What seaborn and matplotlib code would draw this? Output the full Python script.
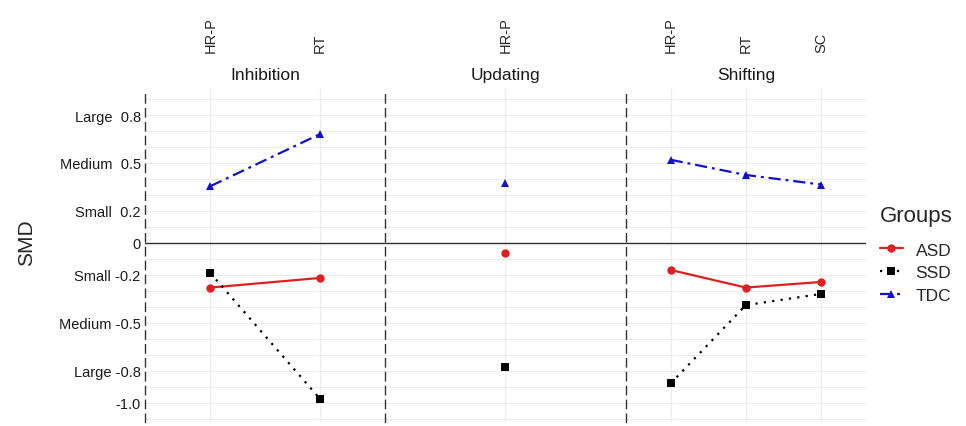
import matplotlib
matplotlib.use("Agg")
import matplotlib.pyplot as plt
import seaborn as sns
import pandas as pd
import numpy as np

# data
domains = ["Inhibition", "Updating", "Shifting"]
inhibition_tasks = ["HR-P", "RT"]
updating_tasks = ["HR-P"]
shifting_tasks = ["HR-P", "RT", "SC"]
groups = ["ASD", "SSD", "TDC"]

# values in order: Inhibition (HR-P, RT), Updating (HR-P), Shifting (HR-P, RT, SC)
asd_smd = [-0.28, -0.22, -0.065, -0.17, -0.28, -0.245]
ssd_smd = [-0.19, -0.975, -0.78, -0.88, -0.39, -0.32]
tdc_smd = [0.355, 0.68, 0.375, 0.52, 0.425, 0.365]

ytick_values = [0.8, 0.5, 0.2, 0, -0.2, -0.5, -0.8, -1.0]
ytick_labels = ["Large  0.8", "Medium  0.5", "Small  0.2", "0",
                "Small -0.2", "Medium -0.5", "Large -0.8", "-1.0"]

task_lists = [inhibition_tasks, updating_tasks, shifting_tasks]
rows = []
for g, vals in zip(groups, [asd_smd, ssd_smd, tdc_smd]):
    k = 0
    for d, tl in zip(domains, task_lists):
        for t in tl:
            rows.append({"domain": d, "task": t, "group": g, "smd": vals[k]})
            k += 1
df = pd.DataFrame(rows)

palette = {"ASD": "#e01f1f", "SSD": "black", "TDC": "#1212cc"}
markers = {"ASD": "o", "SSD": "s", "TDC": "^"}
dashes = {"ASD": "", "SSD": (1, 2.8), "TDC": (5.5, 2.2, 1.3, 2.2)}

sns.set_style("white")
plt.rcParams["font.family"] = ["Liberation Sans", "DejaVu Sans"]

fig = plt.figure(figsize=(9.66, 4.27), dpi=100)
axes = fig.subplots(1, 3, sharey=True,
                    gridspec_kw=dict(wspace=0, left=0.150, right=0.8965,
                                     top=0.789, bottom=0.01))

for i, (ax, d, tl) in enumerate(zip(axes, domains, task_lists)):
    sub = df[df["domain"] == d]
    sns.lineplot(data=sub, x="task", y="smd", hue="group", style="group",
                 hue_order=groups, style_order=groups, palette=palette,
                 markers=markers, dashes=dashes, markersize=6,
                 markeredgewidth=0, linewidth=1.6, sort=False, errorbar=None,
                 legend=(i == 2), ax=ax)
    n = len(tl)
    ax.set_xlim(-0.6, n - 0.4)
    ax.set_ylim(-1.12, 0.9625)
    ax.set_xticks(range(n))
    ax.set_xticklabels(tl, rotation=90, fontsize=10.5)
    ax.xaxis.tick_top()
    ax.tick_params(axis="x", length=0, pad=27)
    ax.set_yticks(ytick_values)
    ax.set_yticks(np.round(np.arange(-1.1, 0.95, 0.1), 1), minor=True)
    ax.tick_params(axis="y", which="both", length=0, pad=3)
    ax.grid(which="both", axis="y", color="#ececec", linewidth=0.9)
    ax.grid(which="major", axis="x", color="#ececec", linewidth=0.9)
    ax.set_axisbelow(True)
    ax.axhline(0, color="#333333", linewidth=1.0, zorder=1)
    for s in ["top", "right", "bottom"]:
        ax.spines[s].set_visible(False)
    ax.spines["left"].set_linestyle((0, (6, 4)))
    ax.spines["left"].set_color("#333333")
    ax.spines["left"].set_linewidth(1.0)
    ax.set_xlabel("")
    ax.set_ylabel("")
    ax.text(0.5, 1.045, d, transform=ax.transAxes, ha="center", va="center",
            fontsize=12.5, color="#1a1a1a")

axes[0].set_yticklabels(ytick_labels, fontsize=10.5, color="#1a1a1a")
fig.text(27 / 966, 1 - 243 / 427, "SMD", rotation=90, ha="center",
         va="center", fontsize=15)

sns.move_legend(axes[2], "center left", bbox_to_anchor=(1 + 14 / 241, 0.505),
                title="Groups", frameon=False, fontsize=12.5,
                title_fontsize=16, handlelength=1.3, handletextpad=0.75,
                labelspacing=0.43, borderaxespad=0, borderpad=0)
leg = axes[2].get_legend()
leg._legend_box.align = "left"
leg._legend_box.sep = 12  # extra gap under the legend title

fig.savefig("out.png", dpi=100)
